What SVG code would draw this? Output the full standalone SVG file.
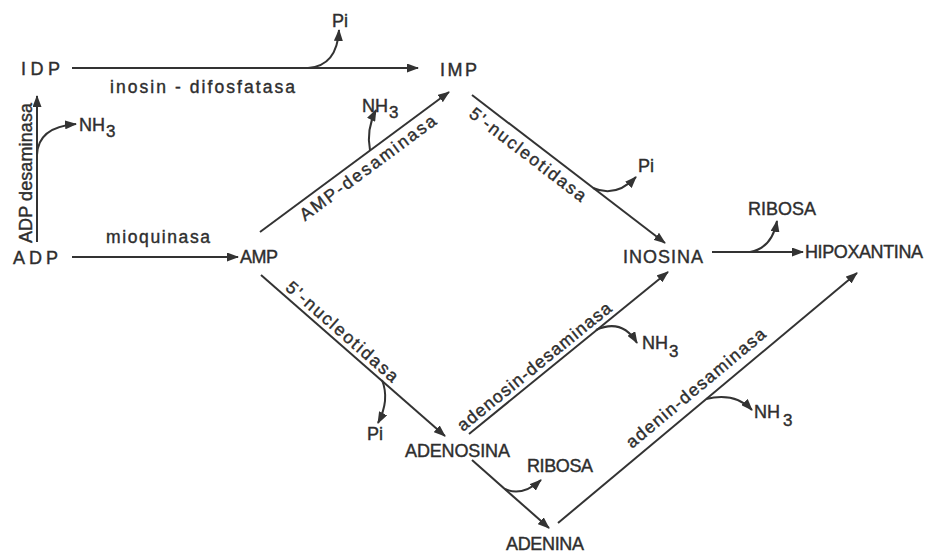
<svg xmlns="http://www.w3.org/2000/svg" width="927" height="553" viewBox="0 0 927 553">
<defs>
<marker id="ah" viewBox="0 0 12 9" refX="11" refY="4.5" markerWidth="12" markerHeight="9" markerUnits="userSpaceOnUse" orient="auto">
<path d="M0,0 L12,4.5 L0,9 z" fill="#333"/>
</marker>
<style>
text{font-family:"Liberation Sans",Arial,sans-serif;fill:#2e2e2e;stroke:#2e2e2e;stroke-width:0.4}
.n{font-size:18px}
.e{font-size:17.5px}
.c path{fill:none;stroke:#333;stroke-width:2;marker-end:url(#ah)}
</style>
</defs>
<rect width="927" height="553" fill="#fff"/>
<g id="connectors" class="c">
<path d="M72,68 H418"/>
<path d="M37,242 V96"/>
<path d="M72,257 H238"/>
<path d="M260,232 L449,92"/>
<path d="M472,95 L665,243"/>
<path d="M712,252 H803"/>
<path d="M261,275 L445,436"/>
<path d="M469,434 L668,272"/>
<path d="M472,460 L549,528"/>
<path d="M558,523 L857,273"/>
<path d="M308,68 Q337,66 339,30"/>
<path d="M37,155 Q38,127 76,124"/>
<path d="M370,150 Q366,130 376,110"/>
<path d="M593,188 Q616,198 636,177"/>
<path d="M750,252 Q772,248 777,221"/>
<path d="M382,380 Q390,400 378,423"/>
<path d="M596,330 Q622,318 637,343"/>
<path d="M505,489 Q522,497 541,480"/>
<path d="M706,399 Q735,392 752,410"/>
</g>
<g id="labels">
<text class="e" x="110" y="93" textLength="185" lengthAdjust="spacing">inosin - difosfatasa</text>
<text class="e" x="106" y="243" textLength="104" lengthAdjust="spacing">mioquinasa</text>
<text class="n" transform="translate(32,243) rotate(-90)" textLength="140" lengthAdjust="spacing">ADP desaminasa</text>
<text class="e" transform="translate(305,221.5) rotate(-36.5)" textLength="165" lengthAdjust="spacing">AMP-desaminasa</text>
<text class="e" transform="translate(468,116) rotate(37.5)" textLength="142" lengthAdjust="spacing">5'-nucleotidasa</text>
<text class="e" transform="translate(284.6,289) rotate(41.2)" textLength="143" lengthAdjust="spacing">5'-nucleotidasa</text>
<text class="e" transform="translate(463,432) rotate(-39.1)" textLength="193" lengthAdjust="spacing">adenosin-desaminasa</text>
<text class="e" transform="translate(632,449) rotate(-39.9)" textLength="176" lengthAdjust="spacing">adenin-desaminasa</text>
</g>
<g id="IDP"><text class="n" x="21" y="75" textLength="39" lengthAdjust="spacing">IDP</text></g>
<g id="IMP"><text class="n" x="440" y="76" textLength="37" lengthAdjust="spacing">IMP</text></g>
<g id="ADP"><text class="n" x="13" y="264" textLength="45" lengthAdjust="spacing">ADP</text></g>
<g id="AMP"><text class="n" x="240" y="263" textLength="38" lengthAdjust="spacing">AMP</text></g>
<g id="INOSINA"><text class="n" x="623" y="263" textLength="80" lengthAdjust="spacing">INOSINA</text></g>
<g id="HIPOXANTINA"><text class="n" x="805" y="258" textLength="118" lengthAdjust="spacing">HIPOXANTINA</text></g>
<g id="ADENOSINA"><text class="n" x="405" y="457" textLength="105" lengthAdjust="spacing">ADENOSINA</text></g>
<g id="ADENINA"><text class="n" x="506" y="550" textLength="78" lengthAdjust="spacing">ADENINA</text></g>
<g id="RIBOSA1"><text class="n" x="748" y="215" textLength="68" lengthAdjust="spacing">RIBOSA</text></g>
<g id="RIBOSA2"><text class="n" x="527" y="472" textLength="66" lengthAdjust="spacing">RIBOSA</text></g>
<g id="Pi1"><text class="n" x="332" y="27">Pi</text></g>
<g id="Pi2"><text class="n" x="638" y="172">Pi</text></g>
<g id="Pi3"><text class="n" x="367" y="440">Pi</text></g>
<g id="NH3a"><text class="n" x="79" y="131">NH<tspan dx="1" dy="6" font-size="17">3</tspan></text></g>
<g id="NH3b"><text class="n" x="362" y="112">NH<tspan dx="1" dy="6" font-size="17">3</tspan></text></g>
<g id="NH3c"><text class="n" x="642" y="349">NH<tspan dx="1" dy="8" font-size="17">3</tspan></text></g>
<g id="NH3d"><text class="n" x="754" y="418">NH<tspan dx="3" dy="8" font-size="17">3</tspan></text></g>
</svg>
